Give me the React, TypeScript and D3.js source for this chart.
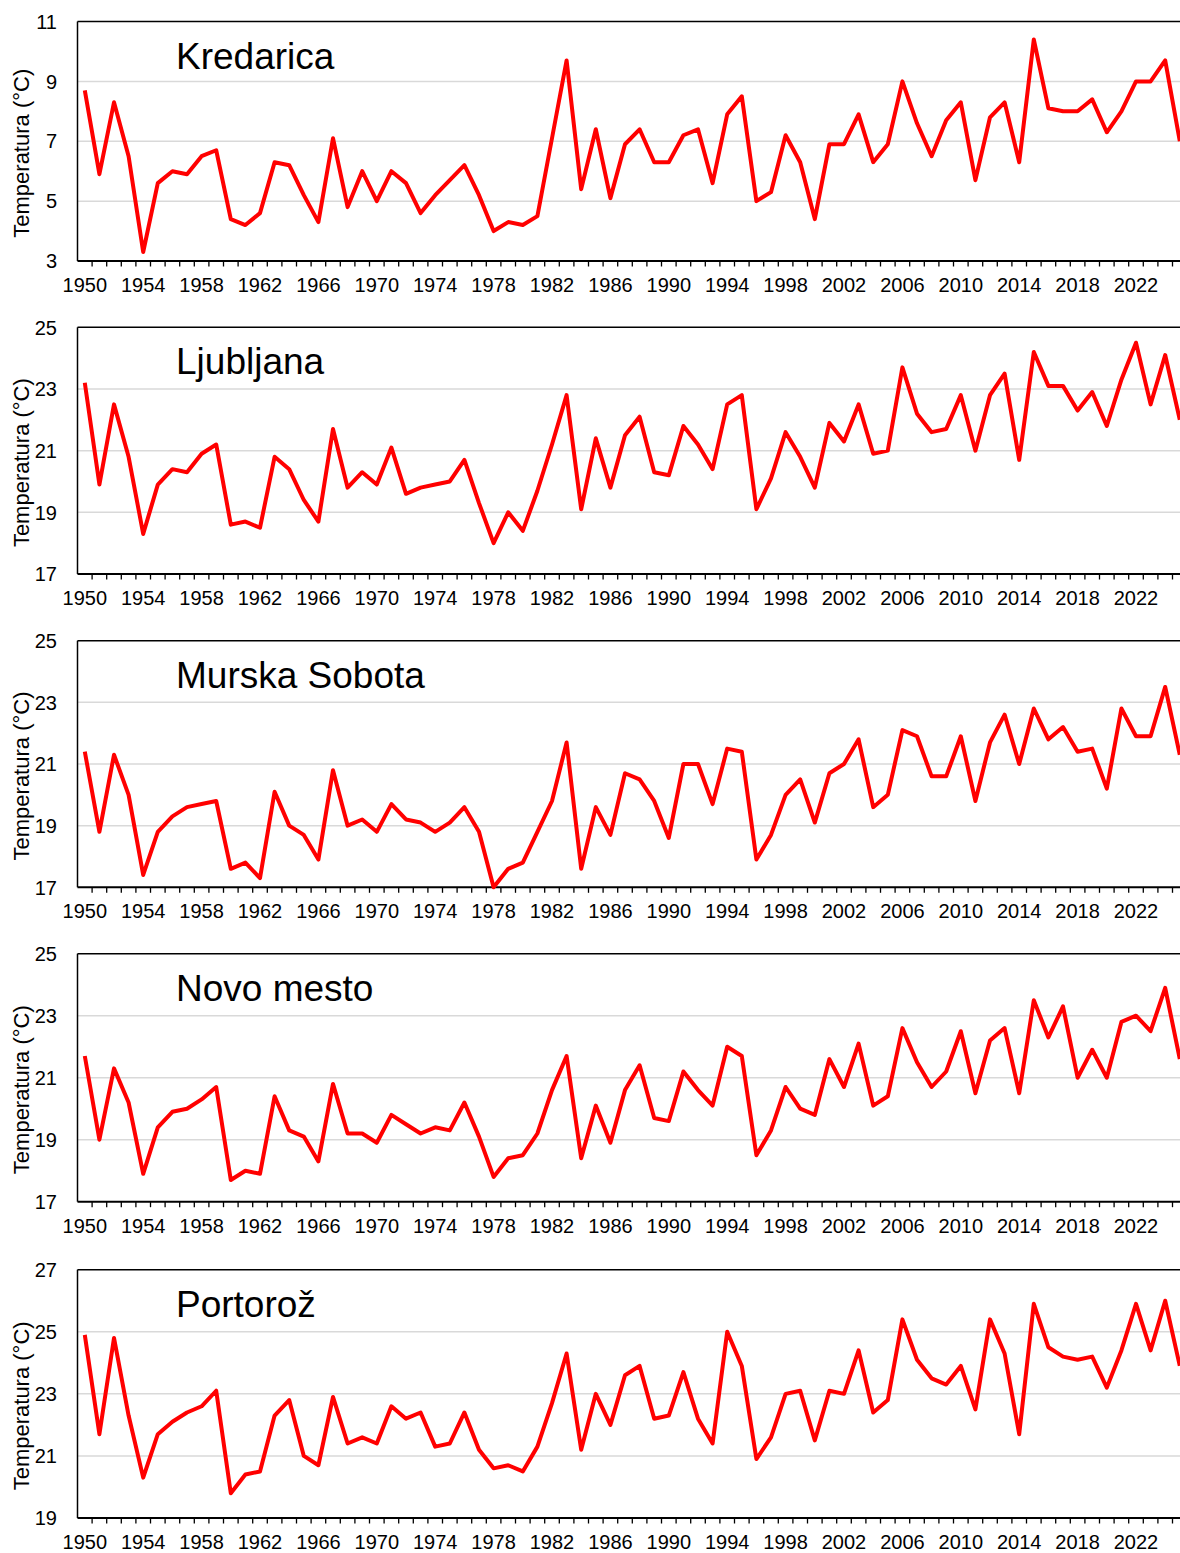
import React, { useEffect } from "react";
import * as d3 from "d3";

// ---------- DATA ----------
const years: number[] = d3.range(1950, 2026);
const tickYears: number[] = d3.range(1950, 2023, 4);

const stations: string[] = ["Kredarica", "Ljubljana", "Murska Sobota", "Novo mesto", "Portorož"];

const kredarica: number[] = [
  8.7, 5.9, 8.3, 6.5, 3.3, 5.6, 6.0, 5.9, 6.5, 6.7,
  4.4, 4.2, 4.6, 6.3, 6.2, 5.2, 4.3, 7.1, 4.8, 6.0,
  5.0, 6.0, 5.6, 4.6, 5.2, 5.7, 6.2, 5.2, 4.0, 4.3,
  4.2, 4.5, 7.1, 9.7, 5.4, 7.4, 5.1, 6.9, 7.4, 6.3,
  6.3, 7.2, 7.4, 5.6, 7.9, 8.5, 5.0, 5.3, 7.2, 6.3,
  4.4, 6.9, 6.9, 7.9, 6.3, 6.9, 9.0, 7.6, 6.5, 7.7,
  8.3, 5.7, 7.8, 8.3, 6.3, 10.4, 8.1, 8.0, 8.0, 8.4,
  7.3, 8.0, 9.0, 9.0, 9.7, 7.0,
];

const ljubljana: number[] = [
  23.2, 19.9, 22.5, 20.8, 18.3, 19.9, 20.4, 20.3, 20.9, 21.2,
  18.6, 18.7, 18.5, 20.8, 20.4, 19.4, 18.7, 21.7, 19.8, 20.3,
  19.9, 21.1, 19.6, 19.8, 19.9, 20.0, 20.7, 19.3, 18.0, 19.0,
  18.4, 19.7, 21.2, 22.8, 19.1, 21.4, 19.8, 21.5, 22.1, 20.3,
  20.2, 21.8, 21.2, 20.4, 22.5, 22.8, 19.1, 20.1, 21.6, 20.8,
  19.8, 21.9, 21.3, 22.5, 20.9, 21.0, 23.7, 22.2, 21.6, 21.7,
  22.8, 21.0, 22.8, 23.5, 20.7, 24.2, 23.1, 23.1, 22.3, 22.9,
  21.8, 23.3, 24.5, 22.5, 24.1, 22.0,
];

const murskaSobota: number[] = [
  21.4, 18.8, 21.3, 20.0, 17.4, 18.8, 19.3, 19.6, 19.7, 19.8,
  17.6, 17.8, 17.3, 20.1, 19.0, 18.7, 17.9, 20.8, 19.0, 19.2,
  18.8, 19.7, 19.2, 19.1, 18.8, 19.1, 19.6, 18.8, 17.0, 17.6,
  17.8, 18.8, 19.8, 21.7, 17.6, 19.6, 18.7, 20.7, 20.5, 19.8,
  18.6, 21.0, 21.0, 19.7, 21.5, 21.4, 17.9, 18.7, 20.0, 20.5,
  19.1, 20.7, 21.0, 21.8, 19.6, 20.0, 22.1, 21.9, 20.6, 20.6,
  21.9, 19.8, 21.7, 22.6, 21.0, 22.8, 21.8, 22.2, 21.4, 21.5,
  20.2, 22.8, 21.9, 21.9, 23.5, 21.3,
];

const novoMesto: number[] = [
  21.7, 19.0, 21.3, 20.2, 17.9, 19.4, 19.9, 20.0, 20.3, 20.7,
  17.7, 18.0, 17.9, 20.4, 19.3, 19.1, 18.3, 20.8, 19.2, 19.2,
  18.9, 19.8, 19.5, 19.2, 19.4, 19.3, 20.2, 19.1, 17.8, 18.4,
  18.5, 19.2, 20.6, 21.7, 18.4, 20.1, 18.9, 20.6, 21.4, 19.7,
  19.6, 21.2, 20.6, 20.1, 22.0, 21.7, 18.5, 19.3, 20.7, 20.0,
  19.8, 21.6, 20.7, 22.1, 20.1, 20.4, 22.6, 21.5, 20.7, 21.2,
  22.5, 20.5, 22.2, 22.6, 20.5, 23.5, 22.3, 23.3, 21.0, 21.9,
  21.0, 22.8, 23.0, 22.5, 23.9, 21.6,
];

const portoroz: number[] = [
  24.9, 21.7, 24.8, 22.3, 20.3, 21.7, 22.1, 22.4, 22.6, 23.1,
  19.8, 20.4, 20.5, 22.3, 22.8, 21.0, 20.7, 22.9, 21.4, 21.6,
  21.4, 22.6, 22.2, 22.4, 21.3, 21.4, 22.4, 21.2, 20.6, 20.7,
  20.5, 21.3, 22.7, 24.3, 21.2, 23.0, 22.0, 23.6, 23.9, 22.2,
  22.3, 23.7, 22.2, 21.4, 25.0, 23.9, 20.9, 21.6, 23.0, 23.1,
  21.5, 23.1, 23.0, 24.4, 22.4, 22.8, 25.4, 24.1, 23.5, 23.3,
  23.9, 22.5, 25.4, 24.3, 21.7, 25.9, 24.5, 24.2, 24.1, 24.2,
  23.2, 24.4, 25.9, 24.4, 26.0, 23.9,
];

const seriesValues: number[][] = [kredarica, ljubljana, murskaSobota, novoMesto, portoroz];

const yDomains: [number, number][] = [
  [3, 11],
  [17, 25],
  [17, 25],
  [17, 25],
  [19, 27],
];
const yTickStep = 2;
const yTitle = "Temperatura (°C)";

// ---------- LAYOUT ----------
const W = 1180;
const H = 1553;
const panelTops = [21.5, 327.3, 640.7, 953.7, 1269.7];
const panelBottoms = [261, 574, 887.3, 1201.7, 1518];
const plotLeft = 77.5;
const step = 14.6;
const plotRight = plotLeft + years.length * step;
const FONT = "'Liberation Sans', Arial, Helvetica, sans-serif";

const x = d3
  .scaleBand<number>()
  .domain(years)
  .range([plotLeft, plotRight])
  .paddingInner(0)
  .paddingOuter(0);

function Panel({ idx }: { idx: number }) {
  const top = panelTops[idx];
  const bottom = panelBottoms[idx];
  const [lo, hi] = yDomains[idx];
  const y = d3.scaleLinear().domain([lo, hi]).range([bottom, top]);
  const values = seriesValues[idx];
  const yTicks = d3.range(lo, hi + 0.001, yTickStep);
  const cx = (yr: number) => (x(yr) as number) + x.bandwidth() / 2;
  const line = d3
    .line<number>()
    .x((_, i) => cx(years[i]))
    .y((v) => y(v));
  const boundaries = d3.range(1, years.length + 1).map((i) => plotLeft + i * x.bandwidth());
  const midY = (top + bottom) / 2 + 12;

  return (
    <g>
      {/* gridlines */}
      {yTicks
        .filter((t) => t !== lo && t !== hi)
        .map((t) => (
          <line
            key={"g" + t}
            x1={plotLeft}
            x2={plotRight}
            y1={y(t)}
            y2={y(t)}
            stroke="#d9d9d9"
            strokeWidth={1.5}
          />
        ))}
      {/* top border */}
      <line x1={plotLeft} x2={plotRight} y1={y(hi)} y2={y(hi)} stroke="#000" strokeWidth={1.5} />
      {/* left axis */}
      <line x1={plotLeft} x2={plotLeft} y1={top} y2={bottom} stroke="#000" strokeWidth={1.5} />
      {/* x ticks */}
      {boundaries.map((bx, i) => (
        <line key={"t" + i} x1={bx} x2={bx} y1={bottom} y2={bottom + 5.5} stroke="#000" strokeWidth={1.3} />
      ))}
      {/* bottom axis */}
      <line x1={plotLeft} x2={plotRight} y1={bottom} y2={bottom} stroke="#000" strokeWidth={2} />
      {/* y tick labels */}
      {yTicks.map((t) => (
        <text
          key={"yl" + t}
          x={57}
          y={y(t)}
          dy="0.36em"
          textAnchor="end"
          fontSize={20}
          fontFamily={FONT}
          fill="#000"
        >
          {t}
        </text>
      ))}
      {/* x tick labels */}
      {tickYears.map((yr) => (
        <text
          key={"xl" + yr}
          x={cx(yr)}
          y={bottom + 31}
          textAnchor="middle"
          fontSize={20}
          fontFamily={FONT}
          fill="#000"
        >
          {yr}
        </text>
      ))}
      {/* y title */}
      <text
        transform={`translate(29,${midY}) rotate(-90)`}
        textAnchor="middle"
        fontSize={22}
        fontFamily={FONT}
        fill="#000"
      >
        {yTitle}
      </text>
      {/* series line */}
      <path
        d={line(values) || ""}
        fill="none"
        stroke="#ff0000"
        strokeWidth={4}
        strokeLinejoin="round"
        strokeLinecap="butt"
      />
      {/* station title */}
      <text x={176} y={top + 47} fontSize={37} fontFamily={FONT} fill="#000">
        {stations[idx]}
      </text>
    </g>
  );
}

export default function App() {
  useEffect(() => {
    document.body.style.margin = "0";
    document.body.style.overflow = "hidden";
  }, []);
  return (
    <svg
      width={W}
      height={H}
      viewBox={`0 0 ${W} ${H}`}
      style={{ display: "block", background: "#fff" }}
    >
      <rect x={0} y={0} width={W} height={H} fill="#fff" />
      {stations.map((_, i) => (
        <Panel key={i} idx={i} />
      ))}
    </svg>
  );
}
